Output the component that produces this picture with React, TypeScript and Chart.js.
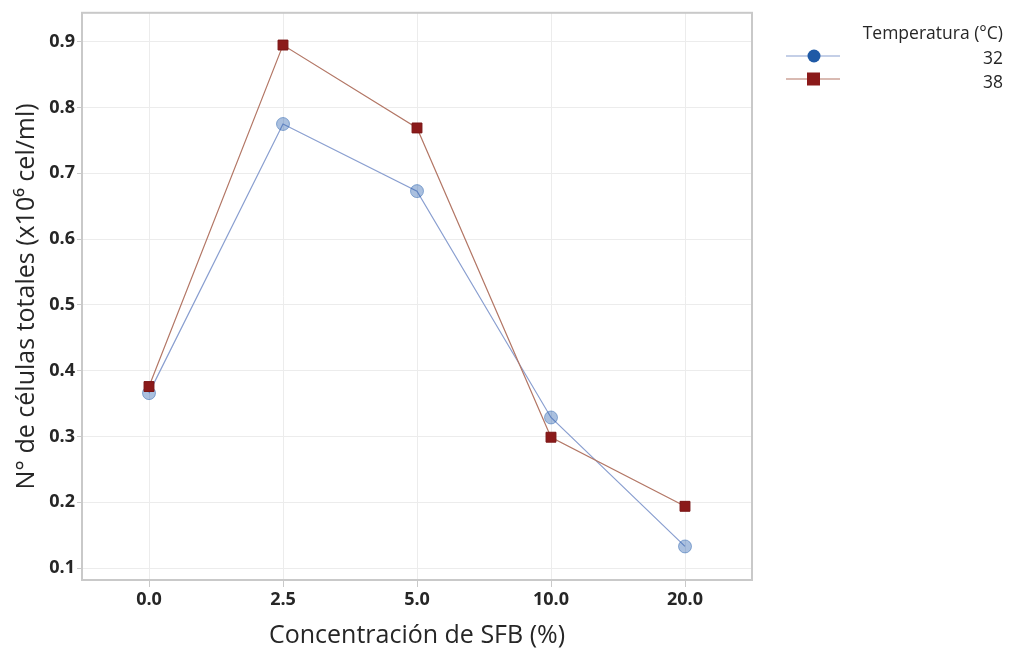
import React, { useEffect, useRef } from "react";
import { Chart, registerables } from "chart.js";

Chart.register(...registerables);

const categories = ["0.0", "2.5", "5.0", "10.0", "20.0"];
const series32 = [0.366, 0.775, 0.673, 0.329, 0.133];
const series38 = [0.376, 0.895, 0.769, 0.299, 0.194];
const seriesLabels = ["32", "38"];
const legendTitle = "Temperatura (°C)";
const xTitle = "Concentración de SFB (%)";
const yTitle = "N° de células totales (x10⁶ cel/ml)";

const FONT = "'Open Sans', 'DejaVu Sans', sans-serif";
const TEXT = "#262626";

const legendPlugin = {
  id: "customLegend",
  afterDraw(chart: any) {
    const ctx = chart.ctx;
    const { left, top, right, bottom } = chart.chartArea;
    ctx.save();
    // plot border
    ctx.strokeStyle = "#c9c9c9";
    ctx.lineWidth = 2;
    ctx.strokeRect(left, top, right - left, bottom - top);
    // legend
    ctx.font = `17.5px ${FONT}`;
    ctx.fillStyle = TEXT;
    ctx.textAlign = "right";
    ctx.textBaseline = "middle";
    ctx.fillText(legendTitle, 1003, 34);
    const rows = [
      { y: 56, ty: 59, line: "#8a9fd0", fill: "#1f5aa6", shape: "circle" },
      { y: 79, ty: 83, line: "#b37766", fill: "#8b1a1a", shape: "rect" },
    ];
    rows.forEach((r, i) => {
      ctx.strokeStyle = r.line;
      ctx.lineWidth = 1.2;
      ctx.beginPath();
      ctx.moveTo(786, r.y);
      ctx.lineTo(840, r.y);
      ctx.stroke();
      ctx.fillStyle = r.fill;
      if (r.shape === "circle") {
        ctx.beginPath();
        ctx.arc(814, r.y, 6.5, 0, Math.PI * 2);
        ctx.fill();
      } else {
        ctx.fillRect(807, r.y - 6.5, 13, 13);
      }
      ctx.fillStyle = TEXT;
      ctx.fillText(seriesLabels[i], 1003, r.ty);
    });
    ctx.restore();
  },
};

export default function App() {
  const ref = useRef<HTMLCanvasElement>(null);
  useEffect(() => {
    document.body.style.margin = "0";
    const chart = new Chart(ref.current!, {
      type: "line",
      data: {
        labels: categories,
        datasets: [
          {
            label: seriesLabels[0],
            data: series32,
            order: 1,
            borderColor: "#8a9fd0",
            borderWidth: 1.2,
            pointStyle: "circle",
            pointRadius: 6.5,
            pointBackgroundColor: "rgba(31,90,170,0.38)",
            pointBorderColor: "rgba(31,90,170,0.45)",
            pointBorderWidth: 1,
            tension: 0,
          },
          {
            label: seriesLabels[1],
            data: series38,
            order: 0,
            borderColor: "#b37766",
            borderWidth: 1.2,
            pointStyle: "rect",
            pointRadius: 7,
            pointBackgroundColor: "#8b1a1a",
            pointBorderColor: "#7a1515",
            pointBorderWidth: 1,
            tension: 0,
          },
        ],
      },
      options: {
        responsive: false,
        animation: false,
        layout: { padding: { left: 0, top: 12, right: 259, bottom: 0 } },
        plugins: { legend: { display: false }, tooltip: { enabled: false } },
        scales: {
          x: {
            type: "category",
            offset: true,
            afterFit(scale: any) {
              scale.height = 73;
            },
            grid: {
              offset: false,
              color: "#ececec",
              tickColor: "#c9c9c9",
              tickLength: 7,
              lineWidth: 1,
            },
            border: { display: false },
            ticks: {
              color: TEXT,
              padding: 2,
              font: { family: FONT, size: 18, weight: "bold" },
            },
            title: {
              display: true,
              text: xTitle,
              color: TEXT,
              font: { family: FONT, size: 25 },
              padding: { top: 0, bottom: 2 },
            },
          },
          y: {
            min: 0.082,
            max: 0.944,
            afterFit(scale: any) {
              scale.width = 82;
            },
            afterBuildTicks(scale: any) {
              scale.ticks = [0.1, 0.2, 0.3, 0.4, 0.5, 0.6, 0.7, 0.8, 0.9].map((v) => ({ value: v }));
            },
            grid: {
              color: "#ececec",
              tickColor: "#c9c9c9",
              tickLength: 5,
            },
            border: { display: false },
            ticks: {
              color: TEXT,
              padding: 2,
              font: { family: FONT, size: 18, weight: "bold" },
              callback: (v: any) => Number(v).toFixed(1),
            },
            title: {
              display: true,
              text: yTitle,
              color: TEXT,
              font: { family: FONT, size: 25 },
              padding: { top: 12, bottom: 0 },
            },
          },
        },
      },
      plugins: [legendPlugin],
    });
    return () => chart.destroy();
  }, []);
  return (
    <div style={{ width: 1011, height: 653, background: "#ffffff" }}>
      <canvas ref={ref} width={1011} height={653} />
    </div>
  );
}
